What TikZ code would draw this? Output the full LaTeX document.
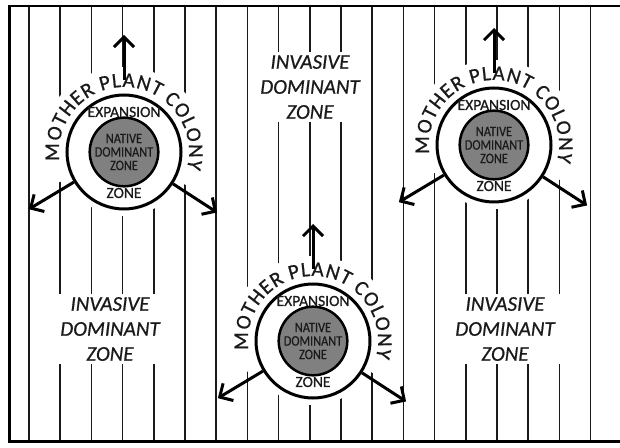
\documentclass[tikz,border=0pt]{standalone}
\usepackage{fontspec}
\setmainfont{Carlito}[FakeBold=0.6]
\newfontfamily\condfont[FakeStretch=0.85,FakeBold=0.6]{Carlito}
\usetikzlibrary{arrows.meta,decorations.text}
\definecolor{ink}{HTML}{1A1A1A}
\definecolor{corefill}{HTML}{808080}
\tikzset{
  hatch/.style={draw=ink, line width=1.5pt},
  ringnode/.style={circle, draw=black, line width=3pt, fill=white, minimum size=114pt, inner sep=0pt},
  corecirc/.style={circle, draw=black, line width=2.5pt, fill=corefill, minimum size=66pt, inner sep=0pt, align=center, font=\condfont\fontsize{14.5}{13.5}\selectfont, text=ink},
  ringtext/.style={font=\fontsize{15.5}{15.5}\selectfont, text=ink, inner sep=0pt},
  invasive/.style={fill=white, align=center, font=\itshape\fontsize{21}{25}\selectfont, text=ink, inner xsep=7pt, inner ysep=3pt},
  growarrow/.style={line width=3pt, draw=black, -{Straight Barb[length=10pt,width=20pt]}},
  pics/colony/.style={code={
    \fill[white] (0,0) circle (64pt);
    \draw[white, line width=26pt] (205:72pt) arc[start angle=205, end angle=-28, radius=72pt];
    \node[ringnode] (-ring) at (0,0) {};
    \node[corecirc] (-core) at (0,0) {NATIVE\\DOMINANT\\ZONE};
    \node[ringtext] (-exp) at (0,40pt) {EXPANSION};
    \node[ringtext] (-zone) at (0,-41pt) {ZONE};
    \path[decorate, decoration={text effects along path, text={MOTHER PLANT COLONY},
      text effects/.cd, text along path, fit text to path,
      characters={text=ink, font=\fontsize{21}{21}\selectfont}}]
      (188:65pt) arc[start angle=188, end angle=-15, radius=65pt];
    \coordinate (-up0) at (90:72pt);
    \coordinate (-up1) at (90:117pt);
    \coordinate (-left1) at (211:111pt);
    \coordinate (-right1) at (-33:111pt);
    \draw[growarrow] (-up0) -- (-up1);
    \draw[growarrow] (-ring.211) -- (-left1);
    \draw[growarrow] (-ring.-33) -- (-right1);
  }}
}
\begin{document}
\begin{tikzpicture}[x=1pt, y=1pt]
\useasboundingbox (0,0) rectangle (620,447);
\fill[white] (0,0) rectangle (620,447);
\foreach \i in {0,...,18} {
  \draw[hatch] ({29+31.2*\i},441) -- ({29+31.2*\i},6);
}
\node[invasive] (inv1) at (110,118) {INVASIVE\\DOMINANT\\ZONE};
\node[invasive] (inv2) at (310,360) {INVASIVE\\DOMINANT\\ZONE};
\node[invasive] (inv3) at (505,118) {INVASIVE\\DOMINANT\\ZONE};
\pic (c1) at (124,295) {colony};
\pic (c2) at (494,302) {colony};
\pic (c3) at (313,106) {colony};
\draw[line width=3pt] (9,6) -- (9,441);
\draw[line width=2pt] (7.5,441) -- (620,441);
\draw[line width=3pt] (7.5,6) -- (620,6);
\end{tikzpicture}
\end{document}
